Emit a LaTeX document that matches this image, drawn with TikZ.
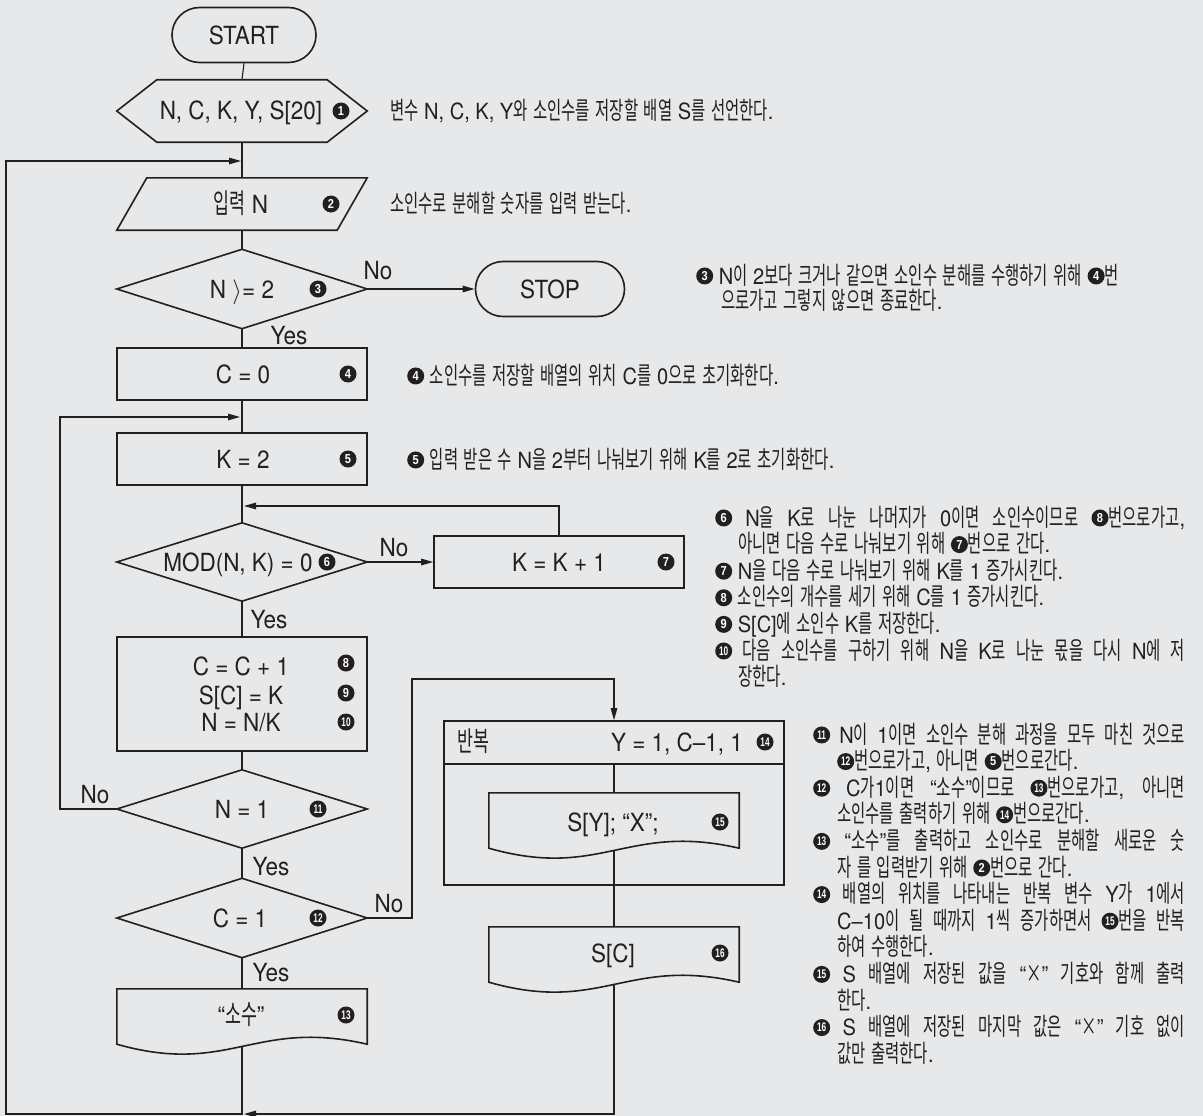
\documentclass[tikz,border=0pt]{standalone}
\usepackage{fontspec}
\setmainfont{TeX Gyre Heros}[FakeStretch=0.9]
\newfontfamily\kr{Noto Sans CJK KR}[Scale=1.1,FakeStretch=0.63]
\newfontfamily\cnfont{Liberation Sans}[FakeStretch=0.85]
\newfontfamily\cnfontn{Liberation Sans}[FakeStretch=0.66]
% automatic switch to the Korean font for Hangul syllables
\XeTeXinterchartokenstate=1
\newXeTeXintercharclass\krclass
\count255="AC00
\loop\ifnum\count255<"D7A4 \XeTeXcharclass\count255=\krclass \advance\count255 by 1 \repeat
\XeTeXinterchartoks 0 \krclass = {\begingroup\kr}
\XeTeXinterchartoks 4095 \krclass = {\begingroup\kr}
\XeTeXinterchartoks \krclass 0 = {\endgroup}
\XeTeXinterchartoks \krclass 4095 = {\endgroup}
\usetikzlibrary{arrows.meta,calc}
\definecolor{bg}{RGB}{231,232,233}
\definecolor{ink}{RGB}{35,31,32}
\tikzset{
  cnstyle/.style={circle,fill=ink,text=white,inner sep=0pt,minimum size=17pt,anchor=center},
  cn/.style={cnstyle,font=\cnfont\bfseries\fontsize{13}{13}\selectfont},
  cnn/.style={cnstyle,font=\cnfontn\bfseries\fontsize{12.5}{13}\selectfont},
}
\newcommand{\cnum}[1]{\tikz[baseline=-0.36em]\node[cn] (cq) at (0,0) {#1};}
\newcommand{\cnumm}[1]{\tikz[baseline=-0.36em]\node[cnn] (cq) at (0,0) {#1};}
\newcommand{\xx}{{\kr ×}}
\newcommand{\docpath}[1]{\draw[shp] (#1.north west) -- (#1.north east) -- (#1.south east)
  .. controls ($(#1.south west)!0.55!(#1.south east)+(0,-26)$) and ($(#1.south west)!0.45!(#1.south east)+(0,32)$) .. (#1.south west) -- cycle;}
\begin{document}
\begin{tikzpicture}[x=1pt,y=-1pt,
  shp/.style={draw=ink,line width=1.6pt},
  geo/.style={inner sep=0pt,draw=none},
  con/.style={draw=ink,line width=1.1pt},
  arr/.style={con,-{Triangle[length=12pt,width=6.5pt]}},
  lbl/.style={inner sep=0pt,text=ink,font=\fontsize{25}{28}\selectfont,text height=18pt,text depth=0pt},
  term/.style={shp,rounded corners=27.5pt,minimum height=55pt,inner sep=0pt,text=ink,font=\fontsize{25}{28}\selectfont},
  box/.style={shp,minimum width=250pt,inner sep=0pt},
  note/.style={inner sep=0pt,text=ink,anchor=base west,font=\fontsize{22.3}{26.6}\selectfont}]
\path[fill=bg] (0,0) rectangle (1203,1116);
\useasboundingbox (0,0) rectangle (1203,1116);

% START
\node[term,minimum width=144pt] (start) at (244,35) {START};

% declaration
\node[geo,minimum width=250pt,minimum height=62pt] (decl) at (242,111) {};
\draw[shp] (decl.west) -- ([xshift=40pt]decl.north west) -- ([xshift=-40pt]decl.north east) -- (decl.east) -- ([xshift=-40pt]decl.south east) -- ([xshift=40pt]decl.south west) -- cycle;
\node[lbl] (declt) at (241,111) {N, C, K, Y, S[20]};
\node[cn] (c1) at (341,111) {1};

% input
\node[geo,minimum width=250pt,minimum height=52pt] (inp) at (242,204) {};
\draw[shp] ([xshift=30pt]inp.north west) -- (inp.north east) -- ([xshift=-30pt]inp.south east) -- (inp.south west) -- cycle;
\node[lbl] (inpt) at (241,204) {입력 N};
\node[cn] (c2) at (331,204) {2};

% N >= 2
\node[geo,minimum width=250pt,minimum height=79pt] (d1) at (242,289) {};
\draw[shp] (d1.west) -- (d1.north) -- (d1.east) -- (d1.south) -- cycle;
\node[lbl] (d1t) at (242,289) {N $\rangle$= 2};
\node[cn] (c3) at (318,289) {3};

% STOP
\node[term,minimum width=149pt] (stop) at (550,289) {STOP};

% C = 0
\node[box,minimum height=52pt] (b4) at (242,374) {};
\node[lbl] (b4t) at (243,374) {C = 0};
\node[cn] (c4) at (348,374) {4};

% K = 2
\node[box,minimum height=52pt] (b5) at (242,459) {};
\node[lbl] (b5t) at (243,459) {K = 2};
\node[cn] (c5) at (348,459) {5};

% MOD
\node[geo,minimum width=250pt,minimum height=78pt] (d6) at (242,562) {};
\draw[shp] (d6.west) -- (d6.north) -- (d6.east) -- (d6.south) -- cycle;
\node[lbl] (d6t) at (238,562) {MOD(N, K) = 0};
\node[cn] (c6) at (327,562) {6};

% K = K + 1
\node[box,minimum height=52pt] (b7) at (559,562) {};
\node[lbl] (b7t) at (559,562) {K = K + 1};
\node[cn] (c7) at (666,562) {7};

% process box
\node[box,minimum height=114pt] (b8) at (242,694) {};
\node[lbl] (b8a) at (241,666) {C = C + 1};
\node[lbl] (b8b) at (241,695) {S[C] = K};
\node[lbl] (b8c) at (241,722) {N = N/K};
\node[cn] (c8) at (346,663) {8};
\node[cn] (c9) at (346,693) {9};
\node[cnn] (c10) at (346,722) {10};

% N = 1
\node[geo,minimum width=250pt,minimum height=78pt] (d11) at (242,809) {};
\draw[shp] (d11.west) -- (d11.north) -- (d11.east) -- (d11.south) -- cycle;
\node[lbl] (d11t) at (242,809) {N = 1};
\node[cnn] (c11) at (318,809) {11};

% C = 1
\node[geo,minimum width=250pt,minimum height=79pt] (d12) at (242,918) {};
\draw[shp] (d12.west) -- (d12.north) -- (d12.east) -- (d12.south) -- cycle;
\node[lbl] (d12t) at (240,918) {C = 1};
\node[cnn] (c12) at (318,918) {12};

% "sosu" document
\node[geo,minimum width=250pt,minimum height=55pt] (doc13) at (242,1016.5) {};
\docpath{doc13}
\node[lbl] (doc13t) at (241,1015) {“소수”};
\node[cnn] (c13) at (346,1015) {13};

% loop box
\node[shp,minimum width=340pt,minimum height=164pt,inner sep=0pt] (loop) at (614,803) {};
\coordinate (hdr) at ($(loop.north)+(0,44)$);
\draw[shp] (loop.west |- hdr) -- (loop.east |- hdr);
\node[lbl,anchor=west] (loopa) at (457,742) {반복};
\node[lbl] (loopb) at (677,742) {Y = 1, C–1, 1};
\node[cnn] (c14) at (765,742) {14};

% S[Y] document
\node[geo,minimum width=250pt,minimum height=55pt] (doc15) at (614,820.5) {};
\docpath{doc15}
\node[lbl] (doc15t) at (613,822) {S[Y]; “X”;};
\node[cnn] (c15) at (720,822) {15};

% S[C] document
\node[geo,minimum width=250pt,minimum height=55pt] (doc16) at (614,954.5) {};
\docpath{doc16}
\node[lbl] (doc16t) at (613,953) {S[C]};
\node[cnn] (c16) at (720,953) {16};

% helper coordinates
\coordinate (doc13b) at ($(doc13.south)+(0,2.25)$);
\coordinate (doc15b) at ($(doc15.south)+(0,2.25)$);
\coordinate (doc16b) at ($(doc16.south)+(0,2.25)$);
\coordinate (bl) at (6,1114);
\coordinate (ent2) at (241,161);
\coordinate (ent3) at (244,1114);
\coordinate (il) at (60,417);
\coordinate (ent5) at (240,417);
\coordinate (ent6) at (244,506);
\coordinate (w12) at (412,679);

% connectors
\draw[con] (start.south) -- (decl.north);
\draw[con] (decl.south) -- (inp.north);
\draw[con] (inp.south) -- (d1.north);
\draw[arr] (d1.east) -- (stop.west);
\draw[con] (d1.south) -- (b4.north);
\draw[con] (b4.south) -- (b5.north);
\draw[con] (b5.south) -- (d6.north);
\draw[arr] (d6.east) -- (b7.west);
\draw[arr] (b7.north) |- (ent6);
\draw[con] (d6.south) -- (b8.north);
\draw[con] (b8.south) -- (d11.north);
\draw[arr] (d11.west) -| (il) -- (ent5);
\draw[con] (d11.south) -- (d12.north);
\draw[arr] (d12.east) -| (w12) -| (loop.north);
\draw[con] (d12.south) -- (doc13.north);
\draw[arr] (doc13b) |- (bl) |- (ent2);
\draw[con] (hdr) -- (doc15.north);
\draw[con] (doc15b) -- (doc16.north);
\draw[arr] (doc16b) |- (ent3);

% branch labels
\node[lbl] (no1) at (378,270) {No};
\node[lbl] (yes1) at (289,335) {Yes};
\node[lbl] (no6) at (394,547) {No};
\node[lbl] (yes6) at (269,619) {Yes};
\node[lbl] (no11) at (95,794) {No};
\node[lbl] (yes11) at (271,866) {Yes};
\node[lbl] (no12) at (389,903) {No};
\node[lbl] (yes12) at (271,972) {Yes};

% notes
\node[note] (n1) at (390,119) {변수 N, C, K, Y와 소인수를 저장할 배열 S를 선언한다.};
\node[note] (n2) at (390,212) {소인수로 분해할 숫자를 입력 받는다.};
\node[note] (n3a) at (696,284) {\cnum{3} N이 2보다 크거나 같으면 소인수 분해를 수행하기 위해 \cnum{4}번};
\node[note] (n3b) at (721,309) {으로가고 그렇지 않으면 종료한다.};
\node[note] (n4) at (407,384) {\cnum{4} 소인수를 저장할 배열의 위치 C를 0으로 초기화한다.};
\node[note] (n5) at (407,468) {\cnum{5} 입력 받은 수 N을 2부터 나눠보기 위해 K를 2로 초기화한다.};

\node[note] (n6a) at (715,526) {\makebox[470pt][s]{\cnum{6} N을 K로 나눈 나머지가 0이면 소인수이므로 \cnum{8}번으로가고,}};
\node[note] (n6b) at (738,552.6) {아니면 다음 수로 나눠보기 위해 \cnum{7}번으로 간다.};
\node[note] (n7) at (715,579.2) {\cnum{7} N을 다음 수로 나눠보기 위해 K를 1 증가시킨다.};
\node[note] (n8) at (715,605.8) {\cnum{8} 소인수의 개수를 세기 위해 C를 1 증가시킨다.};
\node[note] (n9) at (715,632.4) {\cnum{9} S[C]에 소인수 K를 저장한다.};
\node[note] (n10a) at (715,659) {\makebox[470pt][s]{\cnumm{10} 다음 소인수를 구하기 위해 N을 K로 나눈 몫을 다시 N에 저}};
\node[note] (n10b) at (738,685.6) {장한다.};

\node[note] (n11a) at (813,743) {\makebox[372pt][s]{\cnumm{11} N이 1이면 소인수 분해 과정을 모두 마친 것으로}};
\node[note] (n11b) at (837,769.6) {\cnumm{12}번으로가고, 아니면 \cnum{5}번으로간다.};
\node[note] (n12a) at (813,796.2) {\makebox[372pt][s]{\cnumm{12} C가1이면 “소수”이므로 \cnumm{13}번으로가고, 아니면}};
\node[note] (n12b) at (837,822.8) {소인수를 출력하기 위해 \cnumm{14}번으로간다.};
\node[note] (n13a) at (813,849.4) {\makebox[372pt][s]{\cnumm{13} “소수”를 출력하고 소인수로 분해할 새로운 숫}};
\node[note] (n13b) at (837,876) {자 를 입력받기 위해 \cnum{2}번으로 간다.};
\node[note] (n14a) at (813,902.6) {\makebox[372pt][s]{\cnumm{14} 배열의 위치를 나타내는 반복 변수 Y가 1에서}};
\node[note] (n14b) at (837,929.2) {\makebox[348pt][s]{C–10이 될 때까지 1씩 증가하면서 \cnumm{15}번을 반복}};
\node[note] (n14c) at (837,955.8) {하여 수행한다.};
\node[note] (n15a) at (813,982.4) {\makebox[372pt][s]{\cnumm{15} S 배열에 저장된 값을 “\xx” 기호와 함께 출력}};
\node[note] (n15b) at (837,1009) {한다.};
\node[note] (n16a) at (813,1035.6) {\makebox[372pt][s]{\cnumm{16} S 배열에 저장된 마지막 값은 “\xx” 기호 없이}};
\node[note] (n16b) at (837,1062.2) {값만 출력한다.};
\end{tikzpicture}
\end{document}
